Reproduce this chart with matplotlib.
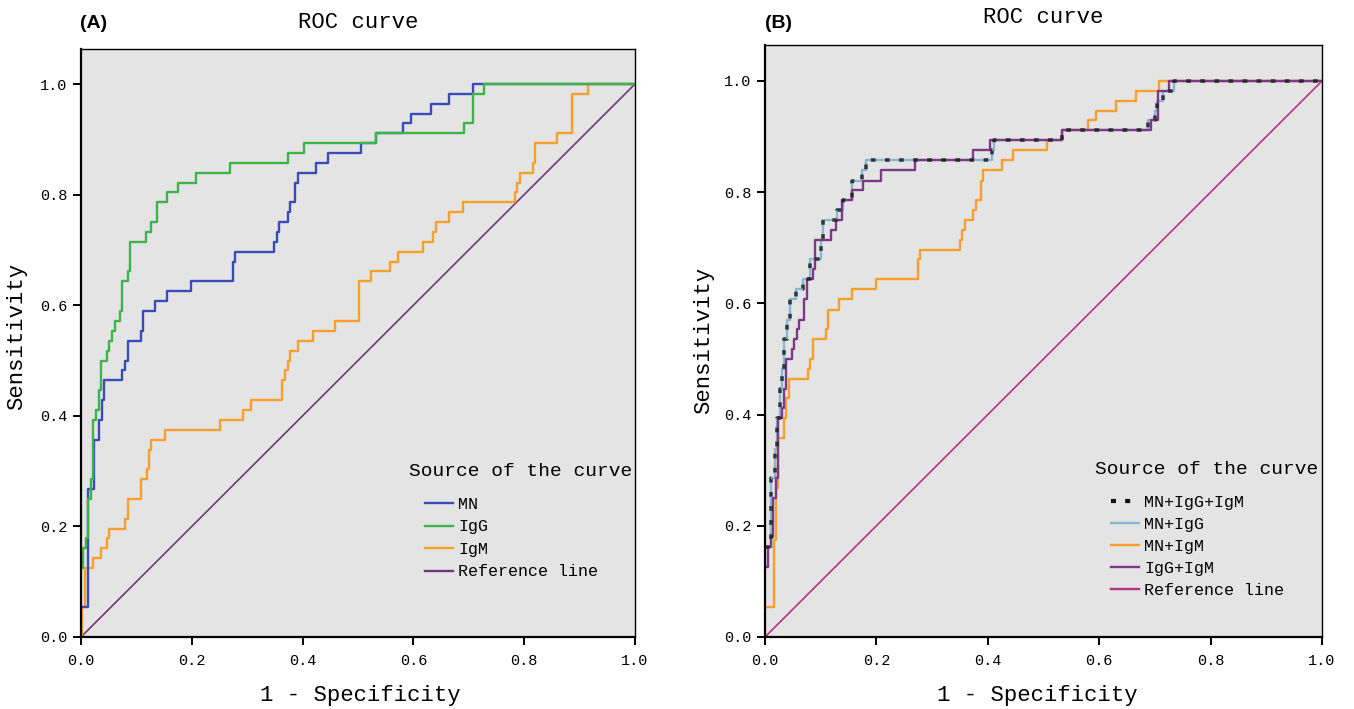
import matplotlib
matplotlib.use('Agg')
import matplotlib.pyplot as plt
from matplotlib.lines import Line2D

# ---- data (corner points of each ROC step) ----
# panel A
mn_fpr = [0, 0.0127, 0.0235, 0.0326, 0.0374, 0.0416, 0.0748, 0.0797, 0.0845, 0.1086,
          0.1123, 0.1328, 0.1557, 0.1986, 0.274, 0.278, 0.349, 0.354, 0.358, 0.374,
          0.378, 0.387, 0.392, 0.425, 0.445, 0.505, 0.532, 0.581, 0.595, 0.632,
          0.665, 0.707, 1.0]
mn_tpr = [0.054, 0.268, 0.357, 0.393, 0.429, 0.464, 0.482, 0.5, 0.536, 0.554,
          0.589, 0.607, 0.625, 0.643, 0.679, 0.696, 0.714, 0.732, 0.75, 0.768,
          0.786, 0.821, 0.839, 0.857, 0.875, 0.893, 0.911, 0.929, 0.946, 0.964,
          0.982, 1.0, 1.0]

igg_fpr = [0, 0.0036, 0.0084, 0.0127, 0.0175, 0.0217, 0.0266, 0.0326, 0.0362, 0.0465,
           0.0507, 0.0555, 0.061, 0.070, 0.0748, 0.0845, 0.0887, 0.1177, 0.1267, 0.1364,
           0.1557, 0.1744, 0.2076, 0.269, 0.3736, 0.4025, 0.532, 0.692, 0.707, 0.727,
           1.0]
igg_tpr = [0.125, 0.161, 0.179, 0.25, 0.286, 0.393, 0.411, 0.446, 0.5, 0.518,
           0.536, 0.554, 0.571, 0.589, 0.643, 0.661, 0.714, 0.732, 0.75, 0.786,
           0.804, 0.821, 0.839, 0.857, 0.875, 0.893, 0.911, 0.929, 0.982, 1.0,
           1.0]

igm_fpr = [0, 0.0024, 0.0072, 0.0223, 0.0368, 0.0465, 0.0507, 0.0797, 0.0845, 0.1086, 0.1183,
           0.1219, 0.1267, 0.1515, 0.2505, 0.2927, 0.3066, 0.3633, 0.3675, 0.3736, 0.3778,
           0.3923, 0.418, 0.4587, 0.501, 0.523, 0.557, 0.572, 0.6175, 0.636, 0.641,
           0.665, 0.689, 0.783, 0.787, 0.792, 0.816, 0.82, 0.8595, 0.887, 0.916,
           1.0]
igm_tpr = [0, 0.054, 0.125, 0.143, 0.161, 0.179, 0.196, 0.214, 0.25, 0.286, 0.304,
           0.339, 0.357, 0.375, 0.393, 0.411, 0.429, 0.464, 0.482, 0.5, 0.518,
           0.536, 0.554, 0.571, 0.643, 0.661, 0.679, 0.696, 0.714, 0.732, 0.75,
           0.768, 0.786, 0.804, 0.821, 0.839, 0.857, 0.893, 0.911, 0.982, 1.0,
           1.0]

# panel B
mn_igg_igm_fpr = [0, 0.010, 0.018, 0.022, 0.027, 0.030, 0.034, 0.040, 0.045, 0.055,
                  0.0677, 0.0808, 0.101, 0.1048, 0.1287, 0.1395, 0.156, 0.175, 0.181, 0.407,
                  0.412, 0.534, 0.688, 0.700, 0.703, 0.715, 0.735, 1.0]
mn_igg_igm_tpr = [0.161, 0.286, 0.339, 0.393, 0.446, 0.482, 0.536, 0.571, 0.607, 0.625,
                  0.643, 0.679, 0.714, 0.75, 0.768, 0.786, 0.821, 0.839, 0.857, 0.875,
                  0.893, 0.911, 0.929, 0.946, 0.964, 0.982, 1.0, 1.0]

mn_igg_fpr = [0, 0.010, 0.018, 0.022, 0.027, 0.030, 0.034, 0.040, 0.045, 0.055,
              0.0677, 0.0808, 0.101, 0.1048, 0.1287, 0.1395, 0.156, 0.175, 0.181, 0.407,
              0.412, 0.534, 0.688, 0.700, 0.703, 0.715, 0.735, 1.0]
mn_igg_tpr = [0.161, 0.286, 0.339, 0.393, 0.446, 0.482, 0.536, 0.571, 0.607, 0.625,
              0.643, 0.679, 0.714, 0.75, 0.768, 0.786, 0.821, 0.839, 0.857, 0.875,
              0.893, 0.911, 0.929, 0.946, 0.964, 0.982, 1.0, 1.0]

mn_igm_fpr = [0, 0.016, 0.019, 0.024, 0.0336, 0.0378, 0.0426, 0.0769, 0.0811, 0.0859,
              0.110, 0.114, 0.1327, 0.156, 0.1988, 0.274, 0.279, 0.350, 0.354, 0.359,
              0.374, 0.379, 0.388, 0.392, 0.425, 0.445, 0.506, 0.534, 0.580, 0.594,
              0.631, 0.666, 0.707, 1.0]
mn_igm_tpr = [0.054, 0.175, 0.268, 0.357, 0.393, 0.429, 0.464, 0.482, 0.5, 0.536,
              0.554, 0.589, 0.607, 0.625, 0.643, 0.679, 0.696, 0.714, 0.732, 0.75,
              0.768, 0.786, 0.821, 0.839, 0.857, 0.875, 0.893, 0.911, 0.929, 0.946,
              0.964, 0.982, 1.0, 1.0]

igg_igm_fpr = [0, 0.006, 0.010, 0.014, 0.0198, 0.024, 0.030, 0.0336, 0.0378, 0.048,
               0.0517, 0.0577, 0.0619, 0.0709, 0.075, 0.0859, 0.090, 0.1177, 0.128, 0.1375,
               0.156, 0.176, 0.209, 0.269, 0.373, 0.404, 0.534, 0.6925, 0.706, 0.726,
               1.0]
igg_igm_tpr = [0.125, 0.161, 0.179, 0.25, 0.286, 0.393, 0.411, 0.446, 0.5, 0.518,
               0.536, 0.554, 0.571, 0.607, 0.643, 0.661, 0.714, 0.732, 0.75, 0.786,
               0.804, 0.821, 0.839, 0.857, 0.875, 0.893, 0.911, 0.929, 0.982, 1.0,
               1.0]

ref_x = [0, 1]
ref_y = [0, 1]

ticks = [0.0, 0.2, 0.4, 0.6, 0.8, 1.0]
tick_labels = ['0.0', '0.2', '0.4', '0.6', '0.8', '1.0']

mono = 'Liberation Mono'
plt.rcParams['font.family'] = [mono, 'DejaVu Sans Mono']

fig = plt.figure(figsize=(13.54, 7.09), dpi=100)
W, H = 1354.0, 709.0


def make_axes(l, r, t, b, ytop):
    ax = fig.add_axes([l / W, (H - b) / H, (r - l) / W, (b - t) / H])
    ax.set_facecolor('#e4e4e4')
    ax.set_xlim(0, 1)
    ax.set_ylim(0, ytop)
    ax.set_xticks(ticks)
    ax.set_xticklabels(tick_labels)
    ax.set_yticks(ticks)
    ax.set_yticklabels(tick_labels)
    ax.tick_params(direction='out', length=6, width=1.4, labelsize=11, pad=6, colors='black')
    ax.tick_params(axis='y', pad=4)
    for s in ['left', 'bottom']:
        ax.spines[s].set_linewidth(1.6)
    for s in ['top', 'right']:
        ax.spines[s].set_linewidth(1.0)
    return ax


axA = make_axes(81, 635, 49, 637, 1.0633)
axB = make_axes(765, 1322, 45, 637, 1.0647)

lw = 1.7
# panel A
axA.plot(ref_x, ref_y, color='#74357f', lw=1.2)
axA.plot(igm_fpr, igm_tpr, drawstyle='steps-post', color='#f9a02a', lw=lw)
axA.plot(mn_fpr, mn_tpr, drawstyle='steps-post', color='#3a4cb8', lw=lw)
axA.plot(igg_fpr, igg_tpr, drawstyle='steps-post', color='#3cb44a', lw=lw)

# panel B
axB.plot(ref_x, ref_y, color='#b5347f', lw=1.2)
axB.plot(mn_igg_fpr, mn_igg_tpr, drawstyle='steps-post', color='#86b8d4', lw=lw)
axB.plot(mn_igm_fpr, mn_igm_tpr, drawstyle='steps-post', color='#f9a02a', lw=lw)
axB.plot(igg_igm_fpr, igg_igm_tpr, drawstyle='steps-post', color='#7e3888', lw=lw)
axB.plot(mn_igg_igm_fpr, mn_igg_igm_tpr, drawstyle='steps-post', color='#222222',
         lw=2.6, ls=(0, (1.3, 2.6)), dash_capstyle='butt', alpha=0.85)

# titles / labels
axA.set_title('ROC curve', fontsize=16, pad=15)
axB.set_title('ROC curve', fontsize=16, pad=16)
fig.text(80 / W, 1 - 24 / H, '(A)', fontsize=14, fontweight='bold', family='Liberation Sans', va='center')
fig.text(765 / W, 1 - 24 / H, '(B)', fontsize=14, fontweight='bold', family='Liberation Sans', va='center')

for ax in [axA, axB]:
    ax.set_xlabel('1 - Specificity', fontsize=16, va='baseline')
    ax.set_ylabel('Sensitivity', fontsize=16)
axA.xaxis.set_label_coords((360 - 81) / 554, (637 - 701) / 588)
axB.xaxis.set_label_coords((1037 - 765) / 557, (637 - 701) / 592)
axA.yaxis.set_label_coords((27 - 81) / 554, (637 - 336) / 588)
axB.yaxis.set_label_coords((714 - 765) / 557, (637 - 340) / 592)

# legends
axA.text((632 - 81) / 554, (637 - 471) / 588, 'Source of the curve', fontsize=14,
         ha='right', va='center', transform=axA.transAxes)
handlesA = [Line2D([], [], color='#3a4cb8', lw=lw),
            Line2D([], [], color='#3cb44a', lw=lw),
            Line2D([], [], color='#f9a02a', lw=lw),
            Line2D([], [], color='#74357f', lw=lw)]
axA.legend(handlesA, ['MN', 'IgG', 'IgM', 'Reference line'], loc='upper left',
           bbox_to_anchor=((425 - 81) / 554, (637 - 497) / 588), frameon=False,
           borderpad=0, borderaxespad=0, handlelength=1.7, handletextpad=0.3,
           labelspacing=0.45, fontsize=12)

axB.text((1318 - 765) / 557, (637 - 470) / 592, 'Source of the curve', fontsize=14,
         ha='right', va='center', transform=axB.transAxes)
handlesB = [Line2D([], [], color='#111111', lw=3, ls=(0, (1.2, 2.2)), dash_capstyle='butt'),
            Line2D([], [], color='#86b8d4', lw=lw),
            Line2D([], [], color='#f9a02a', lw=lw),
            Line2D([], [], color='#7e3888', lw=lw),
            Line2D([], [], color='#b5347f', lw=lw)]
axB.legend(handlesB, ['MN+IgG+IgM', 'MN+IgG', 'MN+IgM', 'IgG+IgM', 'Reference line'],
           loc='upper left', bbox_to_anchor=((1111 - 765) / 557, (637 - 495) / 592),
           frameon=False, borderpad=0, borderaxespad=0, handlelength=1.7,
           handletextpad=0.3, labelspacing=0.42, fontsize=12)

fig.savefig('out.png', dpi=100)
